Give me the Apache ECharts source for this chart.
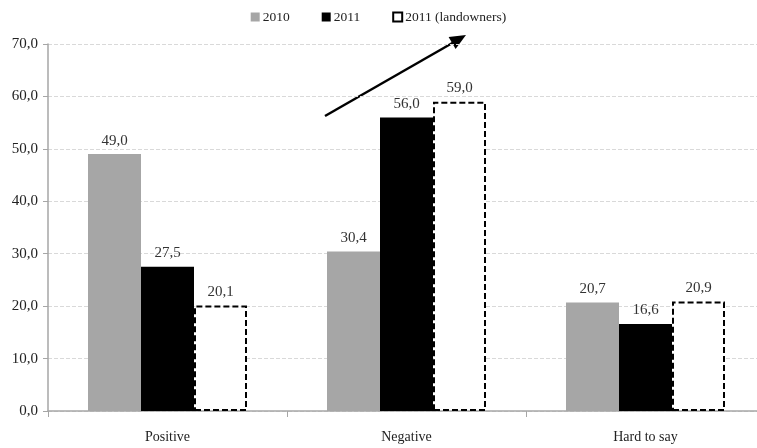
<!DOCTYPE html>
<html>
<head>
<meta charset="utf-8">
<script src="https://cdn.jsdelivr.net/npm/echarts@6/dist/echarts.min.js"></script>
<style>
  html, body { margin: 0; padding: 0; background: #fff; }
  #chart { width: 757px; height: 448px; }
</style>
</head>
<body>
<div id="chart"></div>
<script>
// Attitude categories and survey shares (%)
const categories = ['Positive', 'Negative', 'Hard to say'];
const values2010 = [49.0, 30.4, 20.7];
const values2011 = [27.5, 56.0, 16.6];
const valuesLandowners = [20.1, 59.0, 20.9];
const seriesNames = ['2010', '2011', '2011 (landowners)'];

const FONT = '"Liberation Serif", "DejaVu Serif", serif';
const fmt = v => v.toFixed(1).replace('.', ',');

const chart = echarts.init(document.getElementById('chart'));

const labelCfg = {
  show: true,
  position: 'top',
  distance: 6,
  fontFamily: FONT,
  fontSize: 15,
  color: '#333',
  formatter: p => fmt(p.value)
};

chart.setOption({
  animation: false,
  textStyle: { fontFamily: FONT },
  legend: {
    top: 5,
    left: 'center',
    icon: 'rect',
    itemWidth: 9,
    itemHeight: 9,
    itemGap: 32,
    textStyle: { fontFamily: FONT, fontSize: 13.5, color: '#222', padding: [0, 0, 0, -2] },
    data: seriesNames
  },
  // the category axis runs a little past the right edge of the canvas
  grid: { left: 48, top: 44, width: 717, height: 367, outerBoundsMode: 'none' },
  xAxis: {
    type: 'category',
    data: categories,
    axisLine: { lineStyle: { color: '#a6a6a6', width: 1.5 } },
    axisTick: { show: true, length: 6, lineStyle: { color: '#a6a6a6' } },
    axisLabel: { fontFamily: FONT, fontSize: 14, color: '#222', margin: 19 }
  },
  yAxis: {
    type: 'value',
    min: 0,
    max: 70,
    interval: 10,
    axisLine: { show: true, lineStyle: { color: '#a6a6a6', width: 1.5 } },
    axisTick: { show: true, length: 5, lineStyle: { color: '#a6a6a6' } },
    axisLabel: {
      fontFamily: FONT, fontSize: 15, color: '#222', margin: 10,
      formatter: v => fmt(v)
    },
    splitLine: { lineStyle: { color: '#d9d9d9', type: 'dashed' } }
  },
  series: [
    {
      name: seriesNames[0],
      type: 'bar',
      data: values2010,
      barWidth: 53,
      barGap: '0%',
      itemStyle: { color: '#a6a6a6' },
      label: labelCfg
    },
    {
      name: seriesNames[1],
      type: 'bar',
      data: values2011,
      barWidth: 53,
      barGap: '0%',
      itemStyle: { color: '#000' },
      label: labelCfg
    },
    {
      name: seriesNames[2],
      type: 'bar',
      data: valuesLandowners,
      barWidth: 53,
      barGap: '0%',
      itemStyle: {
        color: '#fff',
        borderColor: '#000',
        borderWidth: 2,
        borderType: [6, 3]
      },
      label: labelCfg
    }
  ],
  graphic: [
    // upward trend arrow: shaft plus triangular head
    {
      type: 'line',
      shape: { x1: 325, y1: 116, x2: 455, y2: 41.5 },
      style: { stroke: '#000', lineWidth: 2.5 }
    },
    {
      type: 'polygon',
      shape: { points: [[466, 35], [448.6, 36.9], [455.6, 49.1]] },
      style: { fill: '#000' }
    }
  ]
});
</script>
</body>
</html>
